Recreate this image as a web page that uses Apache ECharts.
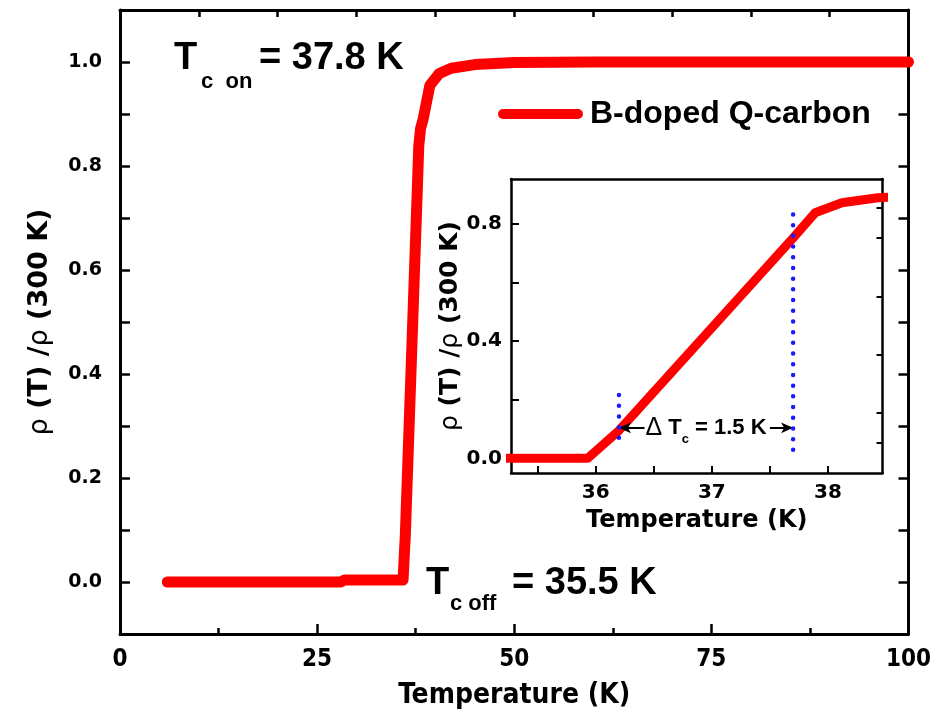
<!DOCTYPE html>
<html>
<head>
<meta charset="utf-8">
<script src="https://cdn.jsdelivr.net/npm/echarts@6/dist/echarts.min.js"></script>
<style>
  html, body { margin: 0; padding: 0; background: #ffffff; }
  #chart { width: 934px; height: 721px; }
</style>
</head>
<body>
<div id="chart"></div>
<script>
// Normalised resistance over the full temperature sweep
const mainTemp = [6, 20, 28, 28.5, 35.9, 36.19, 37.70, 37.89, 38.12, 38.43, 39.3, 40.5, 42, 45, 50, 60, 100];
const mainRho  = [0, 0, 0, 0.004, 0.004, 0.091, 0.752, 0.838, 0.872, 0.889, 0.955, 0.978, 0.988, 0.995, 0.999, 1.0, 1.0];

// Close-up of the superconducting transition
const insetTemp = [35.2, 35.93, 36.19, 37.70, 37.89, 38.12, 38.43, 38.6];
const insetRho  = [0, 0, 0.091, 0.752, 0.838, 0.872, 0.889, 0.893];

// Dotted guides marking the start and end of the transition
const offsetGuideT   = [36.2, 36.2];
const offsetGuideRho = [0.216, 0.035];
const onsetGuideT    = [37.7, 37.7];
const onsetGuideRho  = [0.832, -0.006];

// Width of the transition (arrow level and label)
const deltaLevel = 0.104;
const deltaLabelT = 36.95;

// Tick labels
const mainXLabels  = [0, 25, 50, 75, 100];
const mainYLabels  = [0.0, 0.2, 0.4, 0.6, 0.8, 1.0];
const insetXLabels = [36, 37, 38];
const insetXTicks  = [35.5, 36, 36.5, 37, 37.5, 38];
const insetYLabels = [0.0, 0.4, 0.8];
const insetYTicks  = [0.0, 0.2, 0.4, 0.6, 0.8];
const insetYRightTicks = [0.052, 0.155, 0.354, 0.552, 0.753, 0.856];

const seriesName = 'B-doped Q-carbon';

const zip = (xs, ys) => xs.map((x, i) => [x, ys[i]]);

const BLACK = '#000000';
const RED = '#ff0000';
const BLUE = '#1a1aff';
const boldWide = 'DejaVu Sans';
const arial = 'Liberation Sans, Arial, sans-serif';
const condensed = 'DejaVu Sans Condensed, Liberation Sans, Arial, sans-serif';

const frameLine = { show: true, onZero: false, lineStyle: { color: BLACK, width: 3 } };
const insetFrame = { show: true, onZero: false, lineStyle: { color: BLACK, width: 2.5 } };

const chart = echarts.init(document.getElementById('chart'), null, { renderer: 'canvas' });

const option = {
  backgroundColor: '#ffffff',
  animation: false,
  grid: [
    { left: 120, top: 10, right: 23, bottom: 87 },
    { left: 511, top: 179, right: 51.5, bottom: 248, show: true, backgroundColor: '#ffffff', borderWidth: 0 }
  ],
  legend: {
    data: [seriesName],
    left: 498,
    top: 97,
    padding: 0,
    itemWidth: 85,
    itemHeight: 11,
    selectedMode: false,
    icon: 'path://M5,0 L80,0 A5,5 0 0 1 80,10 L5,10 A5,5 0 0 1 5,0 Z',
    textStyle: { fontFamily: arial, fontWeight: 'bold', fontSize: 32, color: BLACK, lineHeight: 34, padding: [0, 0, 0, 2] }
  },
  xAxis: [
    {
      gridIndex: 0, type: 'value', min: 0, max: 100, interval: 25,
      axisLine: frameLine,
      axisTick: { show: true, inside: true, length: 10, lineStyle: { color: BLACK, width: 2.5 } },
      minorTick: { show: true, splitNumber: 2, length: 6, lineStyle: { color: BLACK, width: 2.5 } },
      splitLine: { show: false },
      axisLabel: {
        margin: 14, color: BLACK, fontFamily: condensed, fontWeight: 'bold', fontSize: 24,
        customValues: mainXLabels
      },
      name: 'Temperature (K)', nameLocation: 'middle', nameGap: 48,
      nameTextStyle: { fontFamily: condensed, fontWeight: 'bold', fontSize: 28, color: BLACK }
    },
    {
      gridIndex: 0, type: 'value', min: 0, max: 100, interval: 10, position: 'top',
      axisLine: frameLine,
      axisTick: { show: true, inside: true, length: 7, lineStyle: { color: BLACK, width: 2.5 } },
      axisLabel: { show: false },
      splitLine: { show: false }
    },
    {
      gridIndex: 1, type: 'value', min: 35.27, max: 38.47,
      axisLine: insetFrame,
      axisTick: { show: true, inside: true, length: 7, customValues: insetXTicks, lineStyle: { color: BLACK, width: 2 } },
      axisLabel: {
        margin: 10, color: BLACK, fontFamily: boldWide, fontWeight: 'bold', fontSize: 20,
        customValues: insetXLabels
      },
      splitLine: { show: false },
      name: 'Temperature (K)', nameLocation: 'middle', nameGap: 36,
      nameTextStyle: { fontFamily: boldWide, fontWeight: 'bold', fontSize: 24, color: BLACK }
    },
    {
      gridIndex: 1, type: 'value', min: 35.27, max: 38.47, position: 'top',
      axisLine: insetFrame,
      axisTick: { show: false },
      axisLabel: { show: false },
      splitLine: { show: false }
    }
  ],
  yAxis: [
    {
      gridIndex: 0, type: 'value', min: -0.1, max: 1.1, interval: 0.1,
      axisLine: frameLine,
      axisTick: { show: true, inside: true, length: 10, lineStyle: { color: BLACK, width: 2.5 } },
      splitLine: { show: false },
      axisLabel: {
        margin: 18, color: BLACK, fontFamily: boldWide, fontWeight: 'bold', fontSize: 19,
        formatter: (v) => {
          const k = Math.round(v * 10);
          const hit = mainYLabels.find((l) => Math.round(l * 10) === k);
          return hit === undefined ? '' : hit.toFixed(1);
        }
      },
      name: '{r|ρ} (T) /{r|ρ} (300 K)', nameLocation: 'middle', nameGap: 67,
      nameTextStyle: {
        fontFamily: boldWide, fontWeight: 'bold', fontSize: 27, color: BLACK,
        rich: { r: { fontFamily: boldWide, fontWeight: 'normal', fontSize: 27, color: BLACK } }
      }
    },
    {
      gridIndex: 0, type: 'value', min: -0.1, max: 1.1, interval: 0.1, position: 'right',
      axisLine: frameLine,
      axisTick: { show: true, inside: true, length: 10, lineStyle: { color: BLACK, width: 2.5 } },
      axisLabel: { show: false },
      splitLine: { show: false }
    },
    {
      gridIndex: 1, type: 'value', min: -0.05, max: 0.953,
      axisLine: insetFrame,
      axisTick: { show: true, inside: true, length: 8, customValues: insetYTicks, lineStyle: { color: BLACK, width: 2 } },
      splitLine: { show: false },
      axisLabel: {
        margin: 9, color: BLACK, fontFamily: boldWide, fontWeight: 'bold', fontSize: 20,
        customValues: insetYLabels,
        formatter: (v) => v.toFixed(1)
      },
      name: '{r|ρ} (T) /{r|ρ} (300 K)', nameLocation: 'middle', nameGap: 47,
      nameTextStyle: {
        fontFamily: boldWide, fontWeight: 'bold', fontSize: 25, color: BLACK,
        rich: { r: { fontFamily: boldWide, fontWeight: 'normal', fontSize: 25, color: BLACK } }
      }
    },
    {
      gridIndex: 1, type: 'value', min: -0.05, max: 0.953, position: 'right',
      axisLine: insetFrame,
      axisTick: { show: true, inside: true, length: 6, customValues: insetYRightTicks, lineStyle: { color: BLACK, width: 2 } },
      axisLabel: { show: false },
      splitLine: { show: false }
    }
  ],
  series: [
    {
      name: seriesName, type: 'line', xAxisIndex: 0, yAxisIndex: 0,
      data: zip(mainTemp, mainRho), symbol: 'none', smooth: false,
      lineStyle: { color: RED, width: 11, cap: 'round', join: 'round' },
      itemStyle: { color: RED }, z: 3
    },
    {
      name: 'transition', type: 'line', xAxisIndex: 2, yAxisIndex: 2,
      data: zip(insetTemp, insetRho), symbol: 'none',
      lineStyle: { color: RED, width: 9, join: 'round' },
      itemStyle: { color: RED }, z: 4
    },
    {
      name: 'offset guide', type: 'line', xAxisIndex: 2, yAxisIndex: 2,
      data: zip(offsetGuideT, offsetGuideRho), symbol: 'none',
      lineStyle: { color: BLUE, width: 4.5, type: [0, 10.7], cap: 'round' }, z: 5,
      markLine: {
        silent: true, symbol: ['none', 'arrow'], symbolSize: [8, 12],
        lineStyle: { color: BLACK, width: 2, type: 'solid' },
        label: { show: false },
        data: [
          [{ coord: [36.42, deltaLevel] }, { coord: [36.2, deltaLevel] }],
          [{ coord: [37.5, deltaLevel] }, { coord: [37.7, deltaLevel] }]
        ]
      },
      markPoint: {
        silent: true, symbol: 'circle', symbolSize: 0,
        label: {
          show: true, position: 'inside', color: BLACK,
          formatter: '{d|Δ}{t| T}{s|c}{t| = 1.5 K}',
          rich: {
            d: { fontFamily: arial, fontWeight: 'normal', fontSize: 25, lineHeight: 24, color: BLACK },
            t: { fontFamily: arial, fontWeight: 'bold', fontSize: 22, lineHeight: 24, color: BLACK },
            s: { fontFamily: arial, fontWeight: 'bold', fontSize: 13, lineHeight: 14, padding: [24, 0, 0, 0], color: BLACK }
          }
        },
        data: [{ coord: [deltaLabelT, deltaLevel] }]
      }
    },
    {
      name: 'onset guide', type: 'line', xAxisIndex: 2, yAxisIndex: 2,
      data: zip(onsetGuideT, onsetGuideRho), symbol: 'none',
      lineStyle: { color: BLUE, width: 4.5, type: [0, 10.7], cap: 'round' }, z: 5
    }
  ],
  graphic: [
    { type: 'text', left: 174, top: 40, style: { text: 'T', font: 'bold 38px ' + arial, fill: BLACK } },
    { type: 'text', left: 201, top: 71, style: { text: 'c  on', font: 'bold 22px ' + arial, fill: BLACK } },
    { type: 'text', left: 259, top: 40, style: { text: '= 37.8 K', font: 'bold 38px ' + arial, fill: BLACK } },
    { type: 'text', left: 426, top: 565, style: { text: 'T', font: 'bold 38px ' + arial, fill: BLACK } },
    { type: 'text', left: 450, top: 593, style: { text: 'c off', font: 'bold 22px ' + arial, fill: BLACK } },
    { type: 'text', left: 512, top: 565, style: { text: '= 35.5 K', font: 'bold 38px ' + arial, fill: BLACK } }
  ]
};

chart.setOption(option);
</script>
</body>
</html>
